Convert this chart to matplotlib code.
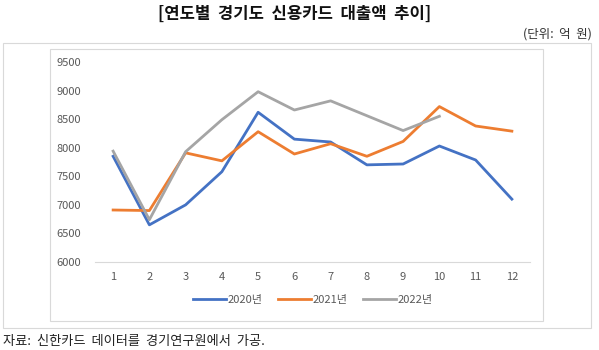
import matplotlib.pyplot as plt
from matplotlib.patches import Rectangle

plt.rcParams['font.family'] = ['Noto Sans CJK KR', 'DejaVu Sans']

months = [1, 2, 3, 4, 5, 6, 7, 8, 9, 10, 11, 12]
y2020 = [7850, 6650, 7000, 7580, 8620, 8150, 8100, 7700, 7715, 8030, 7785, 7100]
y2021 = [6910, 6900, 7910, 7770, 8280, 7890, 8070, 7850, 8110, 8720, 8380, 8290]
y2022 = [7940, 6740, 7930, 8490, 8980, 8660, 8820, 8560, 8300, 8550]

W, H = 599, 350
fig = plt.figure(figsize=(W / 100, H / 100), dpi=100)

def box(x0, y0, x1, y1, **kw):
    # pixel coords from top-left
    fig.add_artist(Rectangle((x0 / W, 1 - y1 / H), (x1 - x0) / W, (y1 - y0) / H,
                             transform=fig.transFigure, fill=False, **kw))

box(3, 43, 591, 328, lw=0.8, ec='#d9d9d9')
box(50, 49, 543, 321, lw=0.8, ec='#d9d9d9')

ax = fig.add_axes([95 / W, 1 - 262 / H, (530 - 95) / W, (262 - 62) / H])
ax.plot(months, y2020, c='#4472C4', lw=2.0, label='2020년')
ax.plot(months, y2021, c='#ED7D31', lw=2.0, label='2021년')
ax.plot(months[:len(y2022)], y2022, c='#A5A5A5', lw=2.0, label='2022년')

ax.set_xlim(0.5, 12.5)
ax.set_ylim(6000, 9500)
ax.set_xticks(months)
ax.set_yticks(range(6000, 9501, 500))
for s in ['top', 'right', 'left']:
    ax.spines[s].set_visible(False)
ax.spines['bottom'].set_color('#d9d9d9')
ax.tick_params(length=0, labelsize=8, colors='#595959')
ax.tick_params(axis='x', pad=7)
ax.tick_params(axis='y', pad=10)

ax.legend(loc='center', bbox_to_anchor=(0.5, -0.19), ncol=3, frameon=False,
          fontsize=8, labelcolor='#595959', handlelength=3.0, handletextpad=0.1,
          columnspacing=1.4)

fig.text(295 / W, 1 - 14 / H, '[연도별  경기도  신용카드  대출액  추이]', ha='center', va='center',
         fontsize=12, fontweight='bold', color='#111111')
fig.text(592 / W, 1 - 34 / H, '(단위:  억  원)', ha='right', va='center',
         fontsize=9, color='#333333')
fig.text(3 / W, 1 - 341 / H, '자료:  신한카드  데이터를  경기연구원에서  가공.', ha='left', va='center',
         fontsize=9.5, color='#222222')

plt.savefig('out.png', dpi=100)
